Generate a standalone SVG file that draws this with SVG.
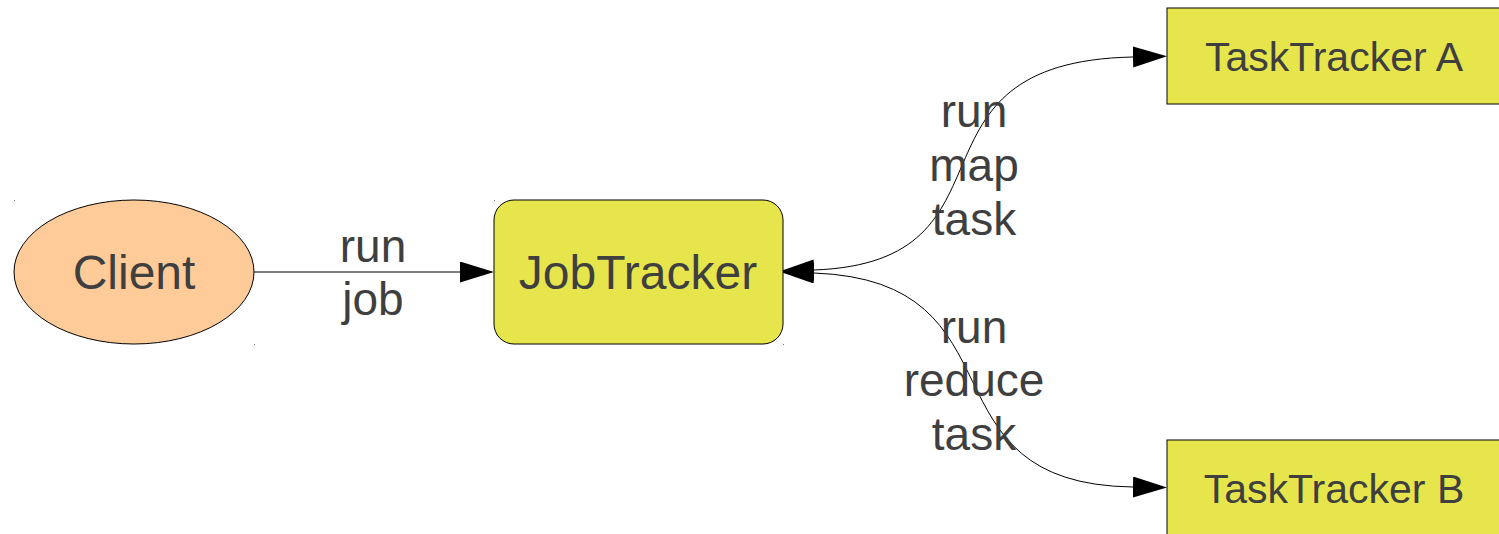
<svg xmlns="http://www.w3.org/2000/svg" width="1499" height="534" viewBox="0 0 1499 534">
<style>
text{font-family:"Liberation Sans",Arial,sans-serif;fill:#3f3f3f;text-anchor:middle}
.node{font-size:48px}
.tt{font-size:41px}
.lbl{font-size:46px}
.box{fill:#e6e64c;stroke:#000;stroke-width:1}
.conn{fill:none;stroke:#000;stroke-width:1}
.dot{fill:#777}
</style>
<defs>
<marker id="ah" markerUnits="userSpaceOnUse" markerWidth="36" markerHeight="22" refX="0" refY="10.5" orient="auto-start-reverse">
<path d="M0,0 L34,10.5 L0,21 z" fill="#000"/>
</marker>
</defs>
<rect class="dot" x="14" y="200" width="1" height="1"/>
<rect class="dot" x="254" y="344" width="1" height="1"/>
<rect class="dot" x="494" y="200" width="1" height="1"/>
<rect class="dot" x="783" y="344" width="1" height="1"/>
<g id="connectors">
<path class="conn" d="M254 272 L460 272" marker-end="url(#ah)"/>
<path class="conn" d="M814 270 C1030 262 890 62 1133 57" marker-start="url(#ah)" marker-end="url(#ah)"/>
<path class="conn" d="M814 273 C1030 281 915 484 1133 487" marker-start="url(#ah)" marker-end="url(#ah)"/>
</g>
<g id="client">
<ellipse cx="134" cy="272" rx="120" ry="72" fill="#ffcc99" stroke="#000" stroke-width="1"/>
<text class="node" x="134" y="289">Client</text>
</g>
<g id="jobtracker">
<rect class="box" x="494" y="200" width="289" height="144" rx="20" ry="20"/>
<text class="node" x="638" y="289">JobTracker</text>
</g>
<g id="tasktracker-a">
<rect class="box" x="1167" y="8" width="340" height="96"/>
<text class="tt" x="1334" y="71">TaskTracker A</text>
</g>
<g id="tasktracker-b">
<rect class="box" x="1167" y="440" width="340" height="100"/>
<text class="tt" x="1334" y="503">TaskTracker B</text>
</g>
<g id="labels">
<text class="lbl" x="373" y="262">run</text>
<text class="lbl" x="373" y="315">job</text>
<text class="lbl" x="974" y="127">run</text>
<text class="lbl" x="974" y="181">map</text>
<text class="lbl" x="974" y="235">task</text>
<text class="lbl" x="974" y="343">run</text>
<text class="lbl" x="974" y="396">reduce</text>
<text class="lbl" x="974" y="450">task</text>
</g>
</svg>
